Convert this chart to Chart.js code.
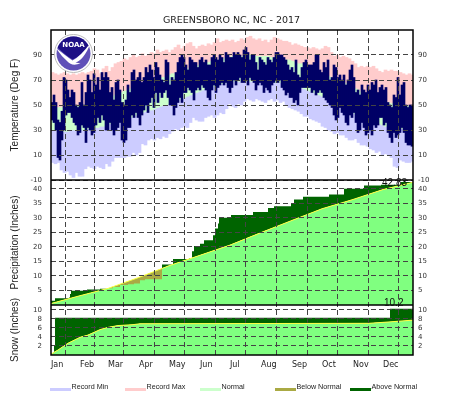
<!DOCTYPE html>
<html>
<head>
<meta charset="utf-8">
<style>html,body{margin:0;padding:0;background:#fff}canvas{display:block}</style>
<script src="https://cdn.jsdelivr.net/npm/chart.js@4"></script>
</head>
<body>
<canvas id="c" width="463" height="395"></canvas>
<script>
const chartTitle = 'GREENSBORO NC, NC - 2017';
const monthLabels = ['Jan','Feb','Mar','Apr','May','Jun','Jul','Aug','Sep','Oct','Nov','Dec'];
const monthStarts = [2,31,59,90,120,151,181,212,243,273,304,334];
const tempTicks = [-10,10,30,50,70,90];
const precipTicks = [5,10,15,20,25,30,35,40];
const snowTicks = [2,4,6,8,10];
const legendNames = ['Record Min','Record Max','Normal','Below Normal','Above Normal'];
const legendColors = ['#CCCCFF','#FFCCCC','#CCFFCC','#AAAA44','#006400'];

// every third day
const recMax = [76,75,74,75,76,75,74,75,74,75,76, 75,76,77,79,78,75,79,81,77, 80,83,84,85,87,86,88,90,88,89, 91,89,90,92,91,94,92,93,94,92, 94,96,98,95,97,99,100,97,95,97, 98,97,99,98,100,103,100,101,102,101, 102,100,101,103,102,104,105,103,102,103, 101,102,100,102,104,103,102,101,101,100, 98,99,98,97,96,96,95,96,95,94, 95,97,96,92,89,90,88,89,88,87, 85,83,80,81,80,81,80,81,79,77, 76,78,77,78,77,77,76,75,74,75,74];
const recMin = [4,3,4,-2,-4,-3,-6,-8,-4,-7,-7, -1,1,0,-1,1,0,-1,3,1, 5,8,8,8,8,9,9,12,10,12, 19,18,22,23,22,24,23,25,24,27, 29,31,30,32,33,32,36,40,38,37, 37,40,41,42,40,42,44,43,47,51, 49,48,51,50,53,55,54,53,55,54, 53,52,54,55,53,54,52,53,50,48, 47,46,45,43,41,41,39,38,37,36, 33,32,30,29,27,28,26,26,24,22, 22,23,20,18,18,17,15,14,12,13, 10,11,10,8,1,0,6,5,4,4,5];
const normLow = [30,30,29,29,29,29,30,30,30,30,30, 30,31,31,32,32,33,33,34,35, 35,36,37,38,39,39,40,41,42,43, 44,45,46,46,47,48,49,50,50,51, 52,53,54,55,56,57,58,59,60,61, 62,63,64,65,65,66,67,67,68,68, 69,69,69,69,69,69,69,69,69,69, 69,69,69,68,68,68,68,67,67,67, 67,66,65,64,63,62,61,60,59,58, 57,56,55,53,52,51,49,48,47,45, 44,43,42,41,40,39,38,37,36,35, 34,33,33,32,32,31,31,31,31,31,31];
const normHigh = [48,48,48,48,48,48,48,48,49,49,50, 50,51,52,52,53,54,55,55,56, 57,58,59,60,61,62,63,64,65,66, 67,68,68,69,70,71,72,72,73,74, 75,75,76,77,78,79,80,81,81,82, 83,84,84,85,86,86,87,87,88,88, 89,89,89,89,89,90,90,90,89,89, 89,89,89,88,88,88,87,87,86,86, 85,84,83,83,82,81,80,79,78,77, 75,74,73,72,71,70,69,68,67,66, 64,63,62,60,59,58,57,56,55,54, 53,52,52,51,51,50,50,49,49,49,49];

// every second day
const obsHigh = [52,58,52,38,36,45,72,70,62,56,62,60,50,48,52,68, 50,60,74,70,60,75,66,72,62,76,72,76,72,60, 64,54,68,70,62,52,50,54,66,60,76,78,70,72,76, 68,72,80,76,82,78,72,84,80,74,70,68,86,84,66, 72,70,76,84,88,90,88,82,78,88,86,84,84,80,86, 88,84,86,82,82,88,90,88,86,90,88,84,92,90,88, 88,92,90,92,90,88,94,96,92,86,90,90,84,78,88, 86,84,82,88,86,84,88,92,92,90,90,88,86,82,78, 80,76,86,74,72,80,84,86,82,82,82,84,90,90,78, 76,84,80,86,70,72,82,80,72,74,70,74,66,70,78, 82,72,60,62,58,66,62,60,66,62,68,66,70,60,64, 66,62,64,52,50,48,58,56,72,58,66,68,50,48,50,50];
const obsLow = [38,36,30,8,6,22,30,42,44,44,40,36,34,26,28,34, 32,20,32,30,26,28,34,40,36,42,38,30,30,36, 30,26,30,32,36,22,20,22,32,32,42,40,44,40,34, 42,46,50,44,52,56,48,60,52,60,56,60,62,56,50, 50,42,48,52,56,52,60,60,64,62,60,54,62,64,62, 66,64,62,56,54,62,66,60,64,66,68,66,68,64,60, 64,70,66,70,72,68,68,70,66,72,70,68,62,66,68, 66,60,64,62,60,66,68,70,68,70,64,62,58,60,56, 56,52,54,50,60,64,64,64,64,64,60,62,58,60,62, 60,56,54,52,50,48,42,38,40,48,44,42,36,34,42, 40,44,36,28,30,36,32,26,28,30,26,34,32,34,40, 40,34,36,28,24,20,28,24,26,28,32,28,20,18,18,17];

const precipNormalDays = [2,31,59,90,120,151,181,212,243,273,304,334,364];
const precipNormal = [0.5,3.2,5.7,9.5,13.5,17.1,20.6,24.9,29.1,33.1,36.3,39.7,42.2];
const precipObsDays = [2,6,20,21,22,38,51,58,64,71,79,85,91,96,113,124,140,143,145,151,155,164,166,169,170,182,204,219,225,242,245,254,280,295,315,332,352,364];
const precipObs = [1.5,2.3,2.6,3.8,4.9,5.3,5.6,5.8,6.2,6.9,7.1,7.4,8.5,8.9,13.9,15.8,16.2,18.5,20.3,21.1,22.3,24,26.3,28,30,31,32,33.4,34,34.9,36.3,37.2,38,40,41.1,41.4,42.3,42.83];
const snowNormalDays = [2,9,19,31,39,51,59,69,84,91,320,340,364];
const snowNormal = [0.2,1.1,2.6,3.9,4.4,5.6,6.1,6.5,6.7,6.9,7.0,7.3,7.7];
const snowObsDays = [2,5,6,341,364];
const snowObs = [0.4,2.2,8.2,10.2,10.2];

const FONT = '"DejaVu Sans"';
const SANS = '"Liberation Sans"';
const recDays = recMax.map((_,i)=>3.5+3*i);
const obsDays = obsHigh.map((_,i)=>3+2*i);
const band = (days,lo,hi)=>days.map((d,i)=>({x:d,y:[lo[i],hi[i]]}));
const pts = (days,vals)=>days.map((d,i)=>({x:d,y:vals[i]}));
const barDs = (label,data,color,w)=>({type:'bar',label,data,backgroundColor:color,borderWidth:0,barThickness:w,stack:'t',xAxisID:'x',yAxisID:'yT',order:10});

const yAxis = (ticks,min,max,weight,stack,title,pos,id)=>{
  const left = pos==='left';
  return {
    type:'linear',position:pos,min,max,stacked:false,stack,stackWeight:max-min===120?150:(max===43?125:50),weight,
    afterFit(s){s.width=left?51:50;},
    afterBuildTicks(s){s.ticks=ticks.map(v=>({value:v}));},
    grid:{display:left,color:'#444',lineWidth:1,tickLength:0,drawTicks:false,z:1},
    border:{display:false,dash:[5,3]},
    ticks:{padding:left?9:5,color:'#333',font:{family:FONT,size:7},autoSkip:false,maxRotation:0,callback:v=>String(v)},
    title:{display:left&&!!title,text:title,color:'#222',font:{family:SANS,size:10},padding:{top:9,bottom:0}}
  };
};

const frame = {id:'frame',afterDraw(ch){
  const c=ch.ctx,a=ch.chartArea,s=ch.scales;
  c.save();
  c.strokeStyle='#000';c.lineWidth=1.5;
  c.strokeRect(a.left,a.top,a.right-a.left,a.bottom-a.top);
  [s.yT.bottom,s.yP.bottom].forEach(y=>{c.beginPath();c.moveTo(a.left,y);c.lineTo(a.right,y);c.stroke();});
  // value notes
  c.fillStyle='#111';c.textAlign='left';c.textBaseline='middle';c.font='10px '+SANS;
  c.fillText('42.83',382,183);
  c.fillText('10.2',384,303);
  // legend
  c.font='7.2px '+SANS;
  legendNames.forEach((n,i)=>{
    const x=50+75*i;
    c.fillStyle=legendColors[i];c.fillRect(x,388,21,3);
    c.fillStyle='#222';c.fillText(n,x+21.5,387);
  });
  // NOAA emblem
  const X=73.5,Y=53.5;
  c.beginPath();c.arc(X,Y,19,0,Math.PI*2);c.fillStyle='#fff';c.fill();c.strokeStyle='#bbb';c.lineWidth=1;c.stroke();
  c.save();c.beginPath();c.arc(X,Y,17,0,Math.PI*2);c.clip();
  c.fillStyle='#6050B8';c.fillRect(X-18,Y-18,36,36);
  c.fillStyle='#1E1085';c.beginPath();c.moveTo(X-18,Y-18);c.lineTo(X+18,Y-18);c.lineTo(X+18,Y-8);c.quadraticCurveTo(X+6,Y+3,X-1,Y+6);c.quadraticCurveTo(X-8,Y+2,X-18,Y-8);c.closePath();c.fill();
  c.fillStyle='#fff';c.beginPath();c.moveTo(X-18,Y-6);c.quadraticCurveTo(X-8,Y+2,X-1,Y+7);c.quadraticCurveTo(X+7,Y+3,X+18,Y-12);c.quadraticCurveTo(X+10,Y+7,X+2,Y+9);c.lineTo(X+7,Y+10);c.quadraticCurveTo(X-2,Y+13,X-6,Y+8);c.quadraticCurveTo(X-12,Y+3,X-18,Y-6);c.closePath();c.fill();
  c.restore();
  c.fillStyle='#fff';c.font='bold 7px '+FONT;c.textAlign='center';c.fillText('NOAA',X,Y-8);
  c.restore();
}};

new Chart(document.getElementById('c'),{
  type:'bar',
  data:{datasets:[
    {type:'line',label:'Normal precip line',data:pts(precipNormalDays,precipNormal),xAxisID:'x',yAxisID:'yP',borderColor:'#FFFF40',borderWidth:1,pointRadius:0,fill:false,order:1},
    {type:'line',label:'Precip',data:pts(precipObsDays,precipObs),xAxisID:'x',yAxisID:'yP',stepped:true,borderWidth:0,borderColor:'transparent',pointRadius:0,fill:{target:2,above:'#006400',below:'#AAAA44'},order:2},
    {type:'line',label:'Normal precip',data:pts(precipNormalDays,precipNormal),xAxisID:'x',yAxisID:'yP',borderWidth:0,borderColor:'transparent',pointRadius:0,fill:{target:'origin',above:'#80FF80',below:'#80FF80'},order:3},
    {type:'line',label:'Normal snow line',data:pts(snowNormalDays,snowNormal),xAxisID:'x',yAxisID:'yS',borderColor:'#FFFF40',borderWidth:1,pointRadius:0,fill:false,order:1},
    {type:'line',label:'Snow',data:pts(snowObsDays,snowObs),xAxisID:'x',yAxisID:'yS',stepped:true,borderWidth:0,borderColor:'transparent',pointRadius:0,fill:{target:5,above:'#006400',below:'#AAAA44'},order:2},
    {type:'line',label:'Normal snow',data:pts(snowNormalDays,snowNormal),xAxisID:'x',yAxisID:'yS',borderWidth:0,borderColor:'transparent',pointRadius:0,fill:{target:'origin',above:'#80FF80',below:'#80FF80'},order:3},
    Object.assign(barDs('Observed',band(obsDays,obsLow,obsHigh),'#000066',2),{order:4}),
    Object.assign(barDs('Normal',band(recDays,normLow,normHigh),'#CCFFCC',3),{order:5}),
    Object.assign(barDs('Record Max',band(recDays,normHigh,recMax),'#FFCCCC',3),{order:6}),
    Object.assign(barDs('Record Min',band(recDays,recMin,normLow),'#CCCCFF',3),{order:7})
  ]},
  options:{
    responsive:false,animation:false,events:[],
    layout:{padding:{left:0,right:0,top:0,bottom:0}},
    plugins:{
      legend:{display:false},tooltip:{enabled:false},
      title:{display:true,text:chartTitle,color:'#222',font:{family:FONT,size:9.5,weight:'normal'},padding:{top:15,bottom:3.6}}
    },
    scales:{
      x:{type:'linear',position:'bottom',min:2,max:364,offset:false,
        afterFit(s){s.height=40;},
        afterBuildTicks(s){s.ticks=monthStarts.map(v=>({value:v}));},
        grid:{color:'#444',lineWidth:1,drawTicks:false,tickLength:0,z:1},
        border:{display:false,dash:[5,3]},
        ticks:{align:'start',padding:5,color:'#222',font:{family:FONT,size:8},autoSkip:false,maxRotation:0,
          callback:(v,i)=>monthLabels[i]}
      },
      yT:yAxis(tempTicks,-10,110,3,'L','Temperature (Deg F)','left'),
      yP:yAxis(precipTicks,0,43,2,'L','Precipitation (Inches)','left'),
      yS:yAxis(snowTicks,0,11.04,1,'L','Snow (Inches)','left'),
      yTr:yAxis(tempTicks,-10,110,1,'R','','right'),
      yPr:yAxis(precipTicks,0,43,2,'R','','right'),
      ySr:yAxis(snowTicks,0,11.04,3,'R','','right')
    }
  },
  plugins:[frame]
});
</script>
</body>
</html>
